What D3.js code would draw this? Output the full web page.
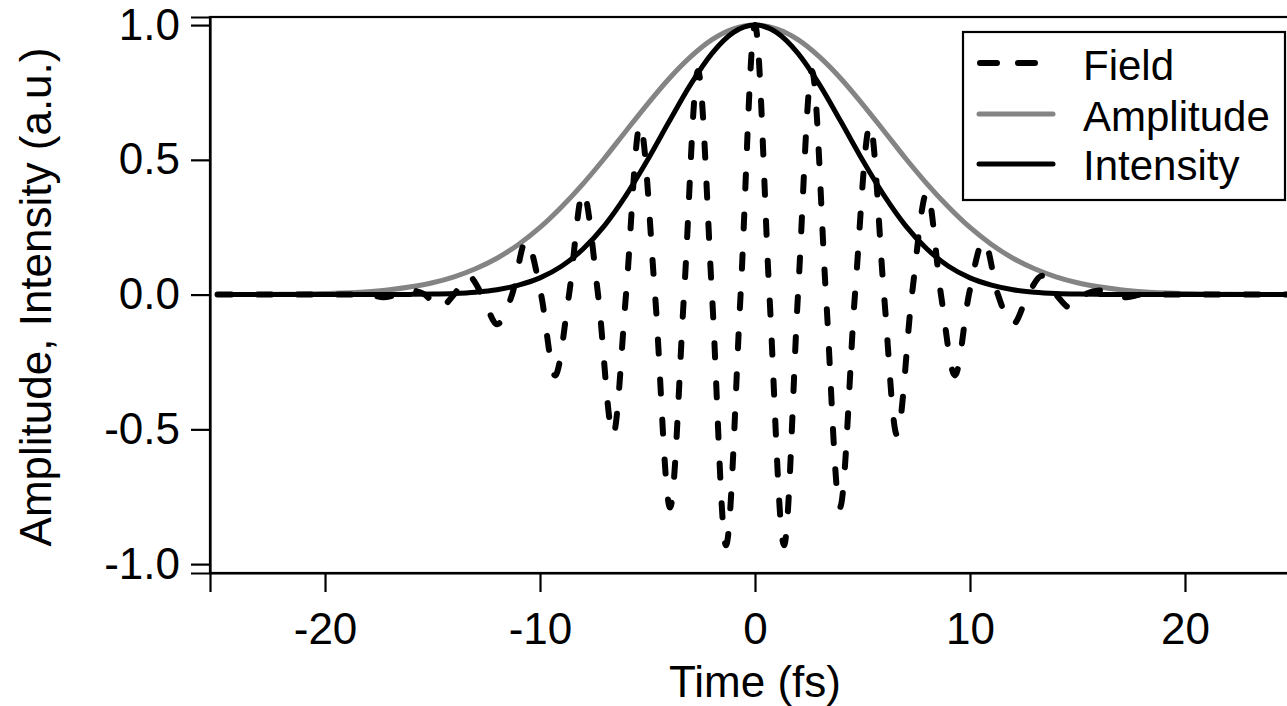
<!DOCTYPE html>
<html>
<head>
<meta charset="utf-8">
<script src="https://cdn.jsdelivr.net/npm/d3@7"></script>
<style>
  html, body { margin: 0; padding: 0; background: #fff; overflow: hidden; }
  svg { display: block; }
  text { font-family: "Liberation Sans", Arial, Helvetica, sans-serif; fill: #000; }
</style>
</head>
<body>
<svg id="chart" width="1287" height="706"></svg>
<script>
// ---- data ----
const seriesNames = ["Field", "Amplitude", "Intensity"];
const xTicks = [-20, -10, 0, 10, 20];
const yTicks = [-1.0, -0.5, 0.0, 0.5, 1.0];
const xTitle = "Time (fs)";
const yTitle = "Amplitude, Intensity (a.u.)";

// envelope curves (time in fs)
const envTime = [-25, -22, -20, -18, -17, -16, -15, -14, -13, -12, -11, -10, -9, -8, -7, -6, -5, -4, -3, -2, -1, 0,
                 1, 2, 3, 4, 5, 6, 7, 8, 9, 10, 11, 12, 13, 14, 15, 16, 17, 18, 20, 22, 25];
const amplitude = [0, 0.001, 0.004, 0.011, 0.018, 0.029, 0.044, 0.066, 0.096, 0.135, 0.186, 0.249, 0.325, 0.411, 0.506, 0.607, 0.707, 0.801, 0.882, 0.946, 0.986, 1.0,
                   0.986, 0.946, 0.882, 0.801, 0.707, 0.607, 0.506, 0.411, 0.325, 0.249, 0.186, 0.135, 0.096, 0.066, 0.044, 0.029, 0.018, 0.011, 0.004, 0.001, 0];
const intensity = [0, 0, 0, 0.0001, 0.0003, 0.0008, 0.0019, 0.0043, 0.0091, 0.018, 0.035, 0.062, 0.105, 0.169, 0.256, 0.368, 0.499, 0.641, 0.779, 0.895, 0.973, 1.0,
                   0.973, 0.895, 0.779, 0.641, 0.499, 0.368, 0.256, 0.169, 0.105, 0.062, 0.035, 0.018, 0.0091, 0.0043, 0.0019, 0.0008, 0.0003, 0.0001, 0, 0, 0];

// field: extrema and zero crossings
const fieldTime = [-25, -20, -18.0, -17.3, -16.65, -16.0, -15.35, -14.7, -14.0, -13.35, -12.7, -12.0, -11.3, -10.65, -9.95, -9.3,
                   -8.65, -8.0, -7.3, -6.6, -6.0, -5.35, -4.65, -3.95, -3.3, -2.65, -2.0, -1.35, -0.67, 0,
                   0.67, 1.35, 2.0, 2.65, 3.3, 3.95, 4.65, 5.35, 6.0, 6.6, 7.3, 8.0, 8.65,
                   9.3, 9.95, 10.65, 11.3, 12.0, 12.7, 13.35, 14.0, 14.7, 15.35, 16.0, 16.65, 17.3, 18.0, 20, 25];
const fieldValue = [0, 0, 0, -0.01, 0, 0.015, 0, -0.05, 0, 0.07, 0, -0.11, 0, 0.20, 0, -0.30,
                    0, 0.38, 0, -0.52, 0, 0.63, 0, -0.79, 0, 0.83, 0, -0.93, 0, 1.0,
                    0, -0.93, 0, 0.83, 0, -0.79, 0, 0.63, 0, -0.52, 0, 0.38, 0,
                    -0.30, 0, 0.20, 0, -0.11, 0, 0.07, 0, -0.05, 0, 0.015, 0, -0.01, 0, 0, 0];

// ---- layout ----
const svg = d3.select("#chart");
const plotLeft = 210, plotRight = 1300, plotTop = 17, plotBottom = 573;
const x = d3.scaleLinear().domain([-25.35, 25.35]).range([plotLeft, plotRight]);
const y = d3.scaleLinear().domain([-1.033, 1.03]).range([plotBottom, plotTop]);

const fontSize = 44;

// frame (top & right borders)
svg.append("rect")
  .attr("x", plotLeft).attr("y", plotTop)
  .attr("width", plotRight - plotLeft).attr("height", plotBottom - plotTop)
  .attr("fill", "none").attr("stroke", "#000").attr("stroke-width", 2.2);

// axes
const xAxis = d3.axisBottom(x).tickValues(xTicks).tickSize(19).tickPadding(21)
  .tickFormat(d3.format("d"));
const gx = svg.append("g").attr("transform", `translate(0,${plotBottom})`).call(xAxis);
gx.select(".domain").attr("stroke-width", 2.2);
gx.selectAll(".tick line").attr("stroke-width", 2.2);
gx.selectAll(".tick text").attr("font-size", fontSize).attr("font-family", "Liberation Sans, Arial, sans-serif")
  .text(d => String(d));

const yAxis = d3.axisLeft(y).tickValues(yTicks).tickSize(19).tickPadding(11)
  .tickFormat(d3.format(".1f"));
const gy = svg.append("g").attr("transform", `translate(${plotLeft},0)`).call(yAxis);
gy.select(".domain").attr("stroke-width", 2.2);
gy.selectAll(".tick line").attr("stroke-width", 2.2);
gy.selectAll(".tick text").attr("font-size", fontSize).attr("font-family", "Liberation Sans, Arial, sans-serif")
  .text(d => d.toFixed(1));

// axis titles
svg.append("text")
  .attr("x", x(0)).attr("y", 697)
  .attr("text-anchor", "middle").attr("font-size", fontSize)
  .text(xTitle);
svg.append("text")
  .attr("transform", `translate(51,297) rotate(-90)`)
  .attr("text-anchor", "middle").attr("font-size", fontSize)
  .text(yTitle);

// curves
const envData = envTime.map((t, i) => ({ t, a: amplitude[i], I: intensity[i] }));
const fieldData = fieldTime.map((t, i) => ({ t, v: fieldValue[i] }));

const plot = svg.append("g");
plot.append("path")
  .datum(envData)
  .attr("fill", "none").attr("stroke", "#848484").attr("stroke-width", 5)
  .attr("d", d3.line().x(d => x(d.t)).y(d => y(d.a)).curve(d3.curveMonotoneX));
plot.append("path")
  .datum(envData)
  .attr("fill", "none").attr("stroke", "#000").attr("stroke-width", 5)
  .attr("d", d3.line().x(d => x(d.t)).y(d => y(d.I)).curve(d3.curveMonotoneX));
plot.append("path")
  .datum(fieldData)
  .attr("fill", "none").attr("stroke", "#000").attr("stroke-width", 6)
  .attr("stroke-linecap", "round")
  .attr("stroke-dasharray", "14,26")
  .attr("d", d3.line().x(d => x(d.t)).y(d => y(d.v)).curve(d3.curveMonotoneX));

// legend
const lg = svg.append("g");
lg.append("rect")
  .attr("x", 963).attr("y", 32).attr("width", 322).attr("height", 168)
  .attr("fill", "#fff").attr("stroke", "#000").attr("stroke-width", 2.2);
const legendStyles = [
  { stroke: "#000", dash: "17,21", cap: "round", w: 6, x1: 980, x2: 1035 },
  { stroke: "#848484", dash: null, cap: "round", w: 5, x1: 979, x2: 1053 },
  { stroke: "#000", dash: null, cap: "round", w: 5, x1: 979, x2: 1053 }
];
const legendLineY = [63, 114, 164];
const legendTextY = [80, 131, 180];
seriesNames.forEach((name, i) => {
  const s = legendStyles[i];
  lg.append("line")
    .attr("x1", s.x1).attr("x2", s.x2)
    .attr("y1", legendLineY[i]).attr("y2", legendLineY[i])
    .attr("stroke", s.stroke).attr("stroke-width", s.w)
    .attr("stroke-linecap", s.cap)
    .attr("stroke-dasharray", s.dash);
  lg.append("text")
    .attr("x", 1083).attr("y", legendTextY[i])
    .attr("font-size", 42)
    .text(name);
});
</script>
</body>
</html>
